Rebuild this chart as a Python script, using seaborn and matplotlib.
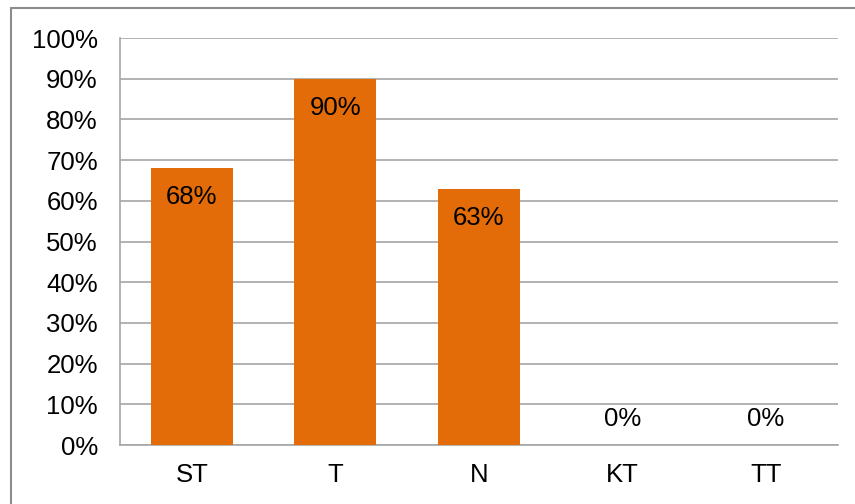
import seaborn as sns
import matplotlib.pyplot as plt
import pandas as pd
from matplotlib.ticker import PercentFormatter
from matplotlib.patches import Rectangle

# data
categories = ['ST', 'T', 'N', 'KT', 'TT']
values = [0.68, 0.90, 0.63, 0.0, 0.0]

df = pd.DataFrame({'cat': categories, 'val': values})

sns.set_theme(style='white')
plt.rcParams['font.family'] = ['Liberation Sans', 'DejaVu Sans']

fig = plt.figure(figsize=(8.55, 5.04), dpi=100)
ax = fig.add_axes([0.1404, 0.117, 0.8396, 0.8076])

sns.barplot(data=df, x='cat', y='val', color='#E36C09', saturation=1,
            width=0.57, linewidth=0, ax=ax, zorder=3)

ax.set_ylim(0, 1)
ax.set_yticks([i / 10 for i in range(11)])
ax.yaxis.set_major_formatter(PercentFormatter(1.0, decimals=0))
ax.grid(axis='y', color='#A6A6A6', linewidth=1.2, zorder=0)
ax.set_axisbelow(True)
ax.set_xlabel('')
ax.set_ylabel('')

for s in ['top', 'right']:
    ax.spines[s].set_visible(False)
for s in ['left', 'bottom']:
    ax.spines[s].set_color('#A6A6A6')
    ax.spines[s].set_linewidth(1.2)

ax.tick_params(axis='y', length=0, pad=16, labelsize=18.5, colors='black')
ax.tick_params(axis='x', length=0, pad=13, labelsize=18.5, colors='black')

# value labels: inside top of bar, above axis for zero
for i, v in enumerate(values):
    off = -21 if v > 0 else 18.5
    ax.annotate(f'{v:.0%}', (i, v), xytext=(0, off), textcoords='offset points',
                ha='center', va='center', fontsize=18.5, color='black', zorder=4)

# chart border
fig.patches.append(Rectangle((11 / 855, -0.1), 1.2, 0.984 + 0.1,
                             transform=fig.transFigure, fill=False,
                             edgecolor='#8C8C8C', linewidth=1.5))

fig.savefig('out.png', dpi=100)
